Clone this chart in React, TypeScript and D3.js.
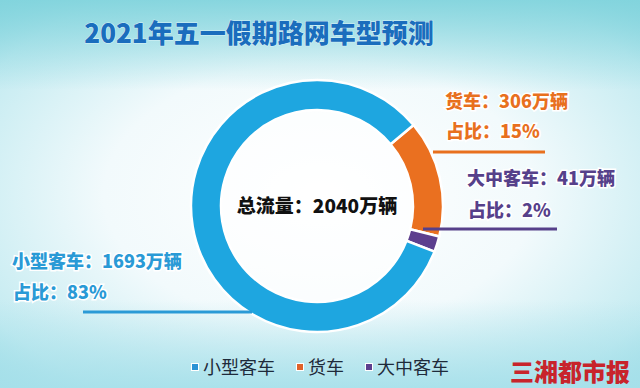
import * as d3 from "d3";

// vehicle types, in the order the ring is drawn (clockwise from the orange slice)
const ringNames = ["货车", "大中客车", "小型客车"];
const ringValues = [306, 41, 1693];
const ringColors = ["#ea7020", "#5d3f8e", "#1ea6e0"];

const legendNames = ["小型客车", "货车", "大中客车"];
const legendColors = ["#2a93d5", "#e0622a", "#5d3f8e"];

const title = "2021年五一假期路网车型预测";
const totalLabel = "总流量：2040万辆";
const source = "三湘都市报";

const W = 640;
const H = 388;
const cx = 317;
const cy = 206;
const outerR = 126;
const innerR = 96;

const font = "'Noto Sans CJK SC', 'Noto Sans', sans-serif";

// callout text blocks next to each slice
const callouts = [
  { name: "货车", color: "#e8701e", x: 445, y1: 108, y2: 138, lineY: 152, lx1: 433, lx2: 545 },
  { name: "大中客车", color: "#56408a", x: 467, y1: 185, y2: 217, lineY: 229, lx1: 423, lx2: 557 },
  { name: "小型客车", color: "#2a9ad6", x: 12, y1: 268, y2: 299, lineY: 312, lx1: 83, lx2: 252 },
];

export default function App() {
  const total = d3.sum(ringValues);
  const start = (50 * Math.PI) / 180;
  const pie = d3
    .pie<number>()
    .sort(null)
    .startAngle(start)
    .endAngle(start + Math.PI * 2);
  const arcs = pie(ringValues);
  const arc = d3.arc<d3.PieArcDatum<number>>().innerRadius(innerR).outerRadius(outerR);

  // legend items laid out one after another
  const legendFs = 18;
  let lx = 192;
  const legendPos = legendNames.map((n) => {
    const x = lx;
    lx += 11 + n.length * legendFs + 22;
    return x;
  });

  return (
    <svg
      width={W}
      height={H}
      style={{ position: "absolute", left: 0, top: 0, display: "block" }}
    >
      <defs>
        <radialGradient id="bg" cx="0.5" cy="0.5" r="0.75">
          <stop offset="0%" stopColor="#ffffff" />
          <stop offset="45%" stopColor="#f2fafc" />
          <stop offset="80%" stopColor="#c4ebf1" />
          <stop offset="100%" stopColor="#8fd8e2" />
        </radialGradient>
        <linearGradient id="topband" x1="0" y1="0" x2="0" y2="1">
          <stop offset="0%" stopColor="#7fd3dc" stopOpacity={0.9} />
          <stop offset="100%" stopColor="#7fd3dc" stopOpacity={0} />
        </linearGradient>
        <linearGradient id="botband" x1="0" y1="0" x2="0" y2="1">
          <stop offset="0%" stopColor="#a6e0ea" stopOpacity={0} />
          <stop offset="100%" stopColor="#a6e0ea" stopOpacity={0.9} />
        </linearGradient>
      </defs>
      <rect width={W} height={H} fill="url(#bg)" />
      <rect width={W} height={90} fill="url(#topband)" />
      <rect y={300} width={W} height={88} fill="url(#botband)" />

      <text
        x={259}
        y={43}
        textAnchor="middle"
        fontFamily={font}
        fontWeight={900}
        fontSize={26}
        fill="#1a6dbd"
        stroke="#d8f2f6"
        strokeWidth={1}
        paintOrder="stroke"
      >
        {title}
      </text>

      <g transform={`translate(${cx},${cy})`}>
        <circle r={innerR} fill="#ffffff" opacity={0.6} />
        {arcs.map((a, i) => (
          <path key={ringNames[i]} d={arc(a) || ""} fill={ringColors[i]} stroke="#ffffff" strokeWidth={2.5} />
        ))}
        <text
          y={7}
          textAnchor="middle"
          fontFamily={font}
          fontWeight={900}
          fontSize={19}
          fill="#111"
        >
          {totalLabel}
        </text>
      </g>

      {callouts.map((c) => {
        const i = ringNames.indexOf(c.name);
        const v = ringValues[i];
        const pct = Math.round((v / total) * 100);
        return (
          <g key={c.name} fontFamily={font} fontWeight={900} fontSize={18} fill={c.color}>
            <line x1={c.lx1} x2={c.lx2} y1={c.lineY} y2={c.lineY} stroke={c.color} strokeWidth={3} />
            <text x={c.x} y={c.y1} stroke="#ffffff" strokeWidth={3} paintOrder="stroke">
              {`${c.name}：${v}万辆`}
            </text>
            <text x={c.x + 1} y={c.y2} stroke="#ffffff" strokeWidth={3} paintOrder="stroke">
              {`占比：${pct}%`}
            </text>
          </g>
        );
      })}

      {legendNames.map((n, i) => (
        <g key={n} transform={`translate(${legendPos[i]},367)`}>
          <rect x={-1} y={-4} width={8} height={8} fill="#ffffff" />
          <rect x={0} y={-3} width={6} height={6} fill={legendColors[i]} />
          <text x={11} y={7} fontFamily={font} fontSize={legendFs} fill="#1e2a3a">
            {n}
          </text>
        </g>
      ))}

      <text
        x={630}
        y={381}
        textAnchor="end"
        fontFamily={font}
        fontWeight={900}
        fontSize={24}
        fill="#c8242b"
      >
        {source}
      </text>
    </svg>
  );
}
